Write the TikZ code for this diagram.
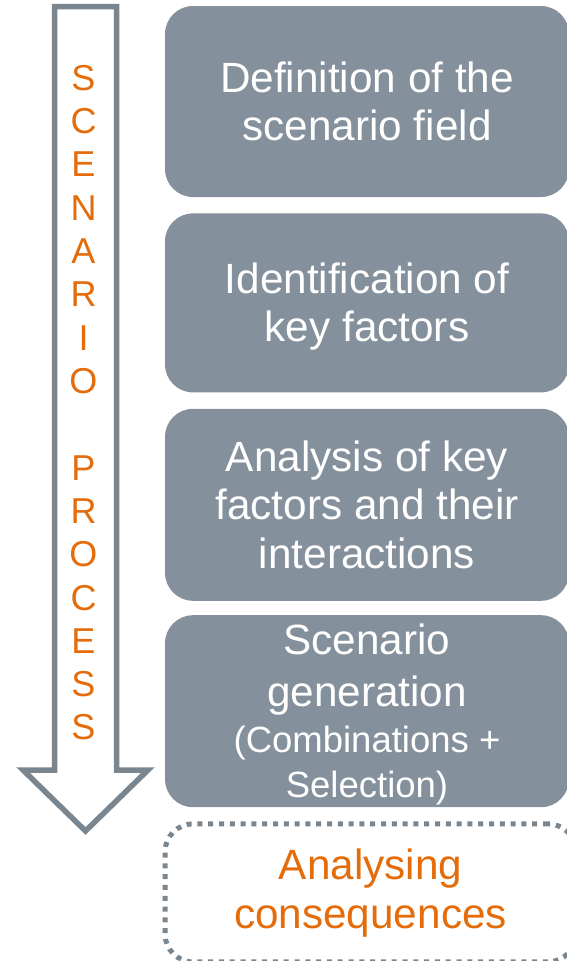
\documentclass[tikz,border=0pt]{standalone}
\usepackage{fontspec}
\setmainfont{Liberation Sans}
\usetikzlibrary{positioning}
\definecolor{boxgray}{HTML}{84909B}
\definecolor{linegray}{HTML}{7A868F}
\definecolor{procorange}{HTML}{E46C0A}

\begin{document}
\begin{tikzpicture}[x=1pt,y=1pt]
	\tikzstyle{every node}+=[inner sep=0pt]
	\tikzstyle{stage}=[fill=boxgray, rounded corners=28pt, minimum width=404pt, text=white, align=center, font=\fontsize{42.3}{48.5}\selectfont]
	\tikzstyle{outlook}=[draw=linegray, line width=5pt, dash pattern=on 5pt off 5.8pt, rounded corners=28pt, minimum width=411pt, minimum height=138pt, text=procorange, align=center, font=\fontsize{42.3}{48.5}\selectfont]
	\tikzstyle{letter}=[text=procorange, font=\fontsize{36}{43}\selectfont]
	\useasboundingbox (0,0) rectangle (567,-961);
	\draw [linegray, line width=5.5pt] (54.5,-6.7) -- (116.5,-6.7) -- (116.5,-770) -- (148,-770) -- (85.5,-831) -- (23,-770) -- (54.5,-770) -- cycle;
	\foreach \ch [count=\i from 0] in {S,C,E,N,A,R,I,O}
		\node [letter] (scen\i) at (83.5,{-78-43.3*\i}) {\ch};
	\foreach \ch [count=\i from 9] in {P,R,O,C,E,S,S}
		\node [letter] (proc\i) at (83.5,{-78-43.3*\i}) {\ch};
	\node [stage, minimum height=191pt] (def) at (367,-101.5) {Definition of the\\scenario field};
	\node [stage, minimum height=179pt, below=16pt of def, text height=86pt] (ident) {Identification of\\key factors};
	\node [stage, minimum height=192pt, below=16pt of ident] (anal) {Analysis of key\\factors and their\\interactions};
	\node [stage, minimum height=192pt, below=14pt of anal, font=\fontsize{42.3}{45.5}\selectfont, text height=181pt] (gen) {Scenario\\[6.5pt]generation\\{\fontsize{36.5}{40}\selectfont(Combinations +}\\{\fontsize{36.5}{40}\selectfont Selection)}};
	\node [outlook, below=14pt of gen, xshift=3.5pt] (cons) {Analysing\\consequences};
\end{tikzpicture}
\end{document}
